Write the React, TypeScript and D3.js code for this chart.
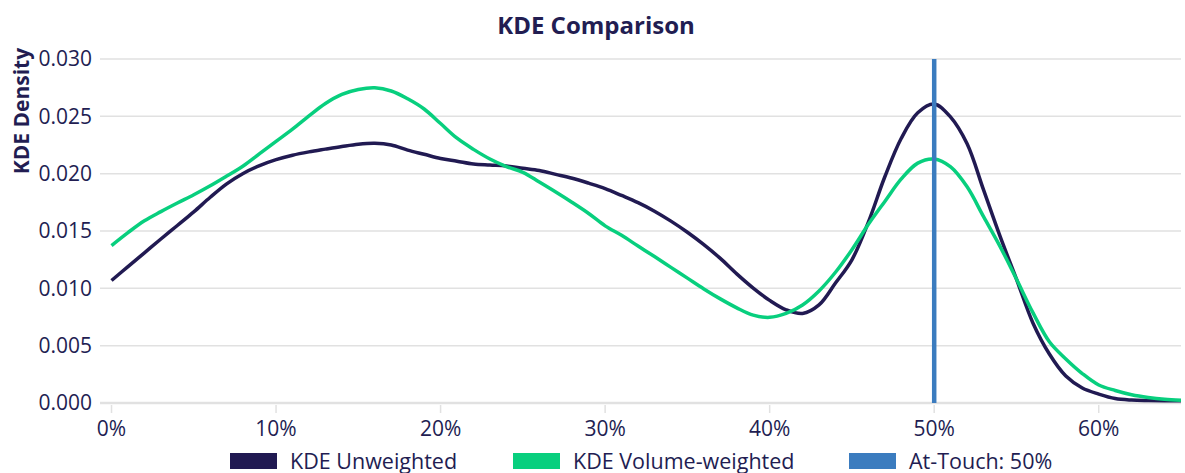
import React, { useEffect, useRef } from "react";
import * as d3 from "d3";

// density estimates read at every 1% of the x axis
const pct = [
  0, 1, 2, 3, 4, 5, 6, 7, 8, 9, 10, 11, 12, 13, 14, 15, 16, 17, 18, 19, 20, 21,
  22, 23, 24, 25, 26, 27, 28, 29, 30, 31, 32, 33, 34, 35, 36, 37, 38, 39, 40,
  41, 42, 43, 44, 45, 46, 47, 48, 49, 50, 51, 52, 53, 54, 55, 56, 57, 58, 59,
  60, 61, 62, 63, 64, 65,
];

const unweighted = [
  0.01068, 0.0119, 0.0131, 0.0143, 0.01548, 0.01667, 0.01794, 0.01911, 0.02002,
  0.0207, 0.02122, 0.02161, 0.0219, 0.02214, 0.02237, 0.02257, 0.02265, 0.0225,
  0.02205, 0.02169, 0.02133, 0.02109, 0.02084, 0.02075, 0.02067, 0.02047,
  0.02027, 0.01994, 0.0196, 0.01917, 0.0187, 0.0181, 0.01747, 0.01673, 0.01586,
  0.01489, 0.01381, 0.01261, 0.01126, 0.01002, 0.00895, 0.00813, 0.00781,
  0.00855, 0.01046, 0.01249, 0.01578, 0.01973, 0.02309, 0.02531, 0.02607,
  0.02493, 0.0226, 0.01858, 0.01455, 0.0108, 0.00698, 0.00427, 0.00235,
  0.00131, 0.00078, 0.00039, 0.00026, 0.00022, 0.0002, 0.00019,
];

const volumeWeighted = [
  0.01373, 0.01486, 0.01589, 0.01669, 0.01744, 0.01816, 0.01894, 0.01979,
  0.02067, 0.02174, 0.02282, 0.02389, 0.02504, 0.02612, 0.02691, 0.02734,
  0.02749, 0.02721, 0.02653, 0.02564, 0.02437, 0.02309, 0.02212, 0.02128,
  0.02062, 0.02012, 0.01927, 0.0184, 0.01749, 0.01653, 0.01545, 0.01462,
  0.01369, 0.01277, 0.01183, 0.01089, 0.00995, 0.00908, 0.0083, 0.00766,
  0.00747, 0.00781, 0.00855, 0.00977, 0.0114, 0.01337, 0.01558, 0.01758,
  0.01954, 0.02092, 0.02128, 0.02059, 0.01885, 0.01625, 0.01366, 0.01081,
  0.00788, 0.00534, 0.00384, 0.00257, 0.00157, 0.00109, 0.00072, 0.00048,
  0.00032, 0.00024,
];

const atTouch = 50;
const xTicks = [0, 10, 20, 30, 40, 50, 60];
const yTicks = [0, 0.005, 0.01, 0.015, 0.02, 0.025, 0.03];
const legendLabels = ["KDE Unweighted", "KDE Volume-weighted", "At-Touch: 50%"];

const NAVY = "#211a52";
const GREEN = "#08cf7e";
const BLUE = "#3b7cbf";
const TEXT = "#221d52";
const GRID = "#e1e1e1";
const FONT = "'Open Sans', 'Noto Sans', sans-serif";

const App = () => {
  const ref = useRef<SVGSVGElement>(null);

  useEffect(() => {
    const width = 1185;
    const height = 473;
    const margin = { top: 59, right: 4, bottom: 70, left: 100 };

    const svg = d3.select(ref.current);
    svg.selectAll("*").remove();
    svg.attr("width", width).attr("height", height);

    const x = d3
      .scaleLinear()
      .domain([-0.7, 65])
      .range([margin.left, width - margin.right]);
    const y = d3
      .scaleLinear()
      .domain([0, 0.03])
      .range([height - margin.bottom, margin.top]);

    // grid
    svg
      .append("g")
      .selectAll("line")
      .data(yTicks)
      .join("line")
      .attr("x1", margin.left)
      .attr("x2", width - margin.right)
      .attr("y1", (d) => y(d))
      .attr("y2", (d) => y(d))
      .attr("stroke", GRID)
      .attr("stroke-width", (d) => (d === 0 ? 2.5 : 1.5));

    // x ticks
    svg
      .append("g")
      .selectAll("line")
      .data(xTicks)
      .join("line")
      .attr("x1", (d) => x(d))
      .attr("x2", (d) => x(d))
      .attr("y1", y(0) + 2)
      .attr("y2", y(0) + 10)
      .attr("stroke", GRID)
      .attr("stroke-width", 1.5);

    svg
      .append("g")
      .selectAll("text")
      .data(xTicks)
      .join("text")
      .attr("x", (d) => x(d))
      .attr("y", y(0) + 33)
      .attr("text-anchor", "middle")
      .attr("font-family", FONT)
      .attr("font-size", 21)
      .attr("fill", TEXT)
      .text((d) => `${d}%`);

    svg
      .append("g")
      .selectAll("text")
      .data(yTicks)
      .join("text")
      .attr("x", margin.left - 8)
      .attr("y", (d) => y(d))
      .attr("dy", "0.35em")
      .attr("text-anchor", "end")
      .attr("font-family", FONT)
      .attr("font-size", 21)
      .attr("fill", TEXT)
      .text((d) => d3.format(".3f")(d));

    const line = d3
      .line<number>()
      .x((_, i) => x(pct[i]))
      .y((d) => y(d))
      .curve(d3.curveCatmullRom);

    svg
      .append("path")
      .datum(unweighted)
      .attr("d", line)
      .attr("fill", "none")
      .attr("stroke", NAVY)
      .attr("stroke-width", 3.5);

    svg
      .append("path")
      .datum(volumeWeighted)
      .attr("d", line)
      .attr("fill", "none")
      .attr("stroke", GREEN)
      .attr("stroke-width", 3.5);

    svg
      .append("line")
      .attr("x1", x(atTouch))
      .attr("x2", x(atTouch))
      .attr("y1", y(0))
      .attr("y2", y(0.03))
      .attr("stroke", BLUE)
      .attr("stroke-width", 4.5);

    // titles
    svg
      .append("text")
      .attr("x", 596)
      .attr("y", 34)
      .attr("text-anchor", "middle")
      .attr("font-family", FONT)
      .attr("font-weight", 700)
      .attr("font-size", 24)
      .attr("fill", TEXT)
      .text("KDE Comparison");

    svg
      .append("text")
      .attr("transform", "translate(29,111) rotate(-90)")
      .attr("text-anchor", "middle")
      .attr("font-family", FONT)
      .attr("font-weight", 700)
      .attr("font-size", 21)
      .attr("fill", TEXT)
      .text("KDE Density");

    // legend (sits at the bottom edge, as in the source)
    const legendX = [230, 513, 849];
    const colors = [NAVY, GREEN, BLUE];
    const lg = svg
      .append("g")
      .selectAll("g")
      .data(legendLabels)
      .join("g")
      .attr("transform", (_, i) => `translate(${legendX[i]},453)`);
    lg.append("rect")
      .attr("width", 47)
      .attr("height", 16)
      .attr("fill", (_, i) => colors[i]);
    lg.append("text")
      .attr("x", 60)
      .attr("y", 16)
      .attr("font-family", FONT)
      .attr("font-size", 21.5)
      .attr("fill", TEXT)
      .text((d) => d);
  }, []);

  return (
    <svg
      ref={ref}
      style={{ position: "absolute", left: 0, top: 0, display: "block" }}
    ></svg>
  );
};

export default App;
